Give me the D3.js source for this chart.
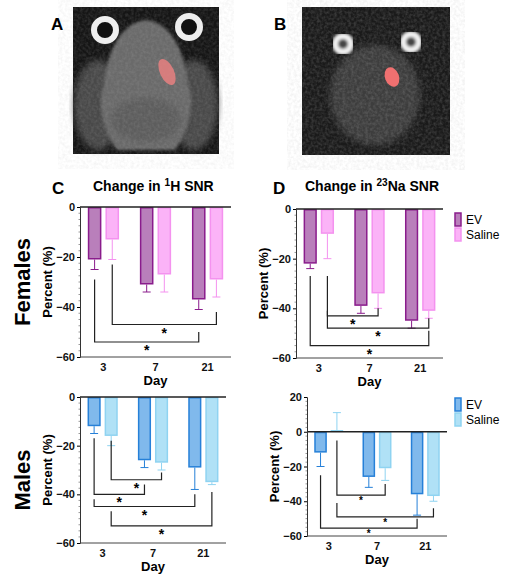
<!DOCTYPE html>
<html><head><meta charset="utf-8">
<script src="https://cdn.jsdelivr.net/npm/d3@7"></script>
<style>body{margin:0;background:#fff}svg{font-family:Arial,"Liberation Sans",sans-serif;font-weight:bold}</style>
</head><body><svg id="c" width="505" height="584"></svg>
<script>
const days = ["3","7","21"];
const series = ["EV","Saline"];
// Females, 1H
const fH_ev = [-21,-31,-37], fH_ev_err = [4,3,4];
const fH_sal = [-13,-27,-29], fH_sal_err = [8,7,7];
// Females, 23Na
const fNa_ev = [-22,-39,-45], fNa_ev_err = [2,3,3];
const fNa_sal = [-10,-34,-41], fNa_sal_err = [10,6,3];
// Males, 1H
const mH_ev = [-12,-26,-29], mH_ev_err = [3,3,9];
const mH_sal = [-16,-27,-35], mH_sal_err = [4,3,1];
// Males, 23Na
const mNa_ev = [-12,-26,-36], mNa_ev_err = [8,6,12];
const mNa_sal = [1,-21,-37], mNa_sal_err = [10,7,3];
const yTicksNeg = [0,-20,-40,-60];
const yTicksPos = [20,0,-20,-40,-60];
// brackets: [day,series, day,series, leftStartY, bottomY, rightEndY]
const fH_br = [[0,1,2,1,-23,-47,-42],[0,0,2,0,-29,-54,-50]];
const fNa_br = [[0,1,1,1,-27,-43,-40],[0,1,2,1,-41,-48,-44],[0,0,2,1,-27,-55,-49]];
const mH_br = [[0,1,1,1,-18,-34,-31],[0,0,1,0,-17,-40,-36],[0,0,2,0,-42,-45,-40],[0,1,2,1,-47,-53,-39]];
const mNa_br = [[0,1,1,1,-5,-36.5,-30],[0,1,2,1,-41,-49,-44],[0,0,2,0,-25,-55.5,-50]];

const svg = d3.select("#c");
const defs = svg.append("defs");
const fem = {ev:["#b97fbb","#8a1c8c"], sal:["#fbb3f7","#f492ef"]};
const mal = {ev:["#80b9ec","#2680d8"], sal:["#b0e1f6","#8fd3f1"]};

function blurF(id,s){ defs.append("filter").attr("id",id).append("feGaussianBlur").attr("stdDeviation",s); }
blurF("b1",1.5); blurF("b3",3);
const nf = defs.append("filter").attr("id","noise");
nf.append("feTurbulence").attr("type","fractalNoise").attr("baseFrequency",0.35).attr("numOctaves",2).attr("seed",3);
nf.append("feColorMatrix").attr("type","matrix").attr("values","0 0 0 0 0.5  0 0 0 0 0.5  0 0 0 0 0.5  0.9 0 0 0 -0.3");
// A
const A = svg.append("g");
A.append("rect").attr("x",73).attr("y",7).attr("width",146).attr("height",147).attr("fill","#151515");
A.append("ellipse").attr("cx",98).attr("cy",105).attr("rx",24).attr("ry",45).attr("fill","#4a4a4a").attr("filter","url(#b3)");
A.append("ellipse").attr("cx",194).attr("cy",105).attr("rx",24).attr("ry",45).attr("fill","#4a4a4a").attr("filter","url(#b3)");
A.append("path").attr("d","M146,20 C170,22 185,50 188,85 C195,100 190,130 175,150 L117,150 C102,130 97,100 104,85 C107,50 122,22 146,20Z").attr("fill","#6a6a6a").attr("filter","url(#b1)");
A.append("ellipse").attr("cx",146).attr("cy",120).attr("rx",35).attr("ry",22).attr("fill","#5d5d5d").attr("filter","url(#b3)");
A.append("rect").attr("x",73).attr("y",7).attr("width",146).attr("height",147).attr("filter","url(#noise)").attr("opacity",0.35);
[[105,30],[189,27]].forEach(p=>{A.append("circle").attr("cx",p[0]).attr("cy",p[1]).attr("r",11).attr("fill","#111").attr("stroke","#eee").attr("stroke-width",6);});
A.append("ellipse").attr("cx",167).attr("cy",72).attr("rx",7).attr("ry",14).attr("transform","rotate(-25,167,72)").attr("fill","#e88080").attr("opacity",0.85);
A.append("text").attr("x",51).attr("y",30).attr("font-size",17).text("A");
// B
const B = svg.append("g");
B.append("rect").attr("x",302).attr("y",7).attr("width",148).attr("height",148).attr("fill","#1a1a1a");
B.append("ellipse").attr("cx",375).attr("cy",95).attr("rx",45).attr("ry",50).attr("fill","#3c3c3c").attr("filter","url(#b3)");
B.append("rect").attr("x",302).attr("y",7).attr("width",148).attr("height",148).attr("filter","url(#noise)").attr("opacity",0.45);
[[343,44],[411,42]].forEach(p=>{B.append("circle").attr("cx",p[0]).attr("cy",p[1]).attr("r",8).attr("fill","#444").attr("stroke","#f2f2f2").attr("stroke-width",6).attr("filter","url(#b1)");});
B.append("ellipse").attr("cx",392).attr("cy",77).attr("rx",7).attr("ry",10).attr("transform","rotate(-20,392,77)").attr("fill","#f07070");
B.append("text").attr("x",274).attr("y",30).attr("font-size",17).text("B");

function panel(o){
  const g = svg.append("g");
  const y = d3.scaleLinear().domain(o.dom).range([o.top,o.bot]);
  const x0 = d3.scaleBand().domain(days).range([o.left,o.right]).paddingInner(0.4).paddingOuter(0.15);
  const x1 = d3.scaleBand().domain(series).range([0,x0.bandwidth()]).paddingInner(0.23);
  const cx = (d,s)=>x0(days[d])+x1(series[s])+x1.bandwidth()/2;
  const data=[o.ev,o.sal], errs=[o.evE,o.salE], cols=[o.c.ev,o.c.sal];
  data.forEach((vals,s)=>{
    vals.forEach((v,i)=>{
      const xx=x0(days[i])+x1(series[s]), mid=xx+x1.bandwidth()/2;
      const e = v + (v<0?-errs[s][i]:errs[s][i]);
      g.append("line").attr("x1",mid).attr("x2",mid).attr("y1",y(v)).attr("y2",y(e)).attr("stroke",cols[s][1]).attr("stroke-width",1);
      g.append("line").attr("x1",mid-4).attr("x2",mid+4).attr("y1",y(e)).attr("y2",y(e)).attr("stroke",cols[s][1]).attr("stroke-width",1);
      g.append("rect").attr("x",xx+0.75).attr("width",x1.bandwidth()-1.5)
        .attr("y",Math.min(y(v),y(0))+0.75).attr("height",Math.max(0.5,Math.abs(y(v)-y(0))-1.5))
        .attr("fill",cols[s][0]).attr("stroke",cols[s][1]).attr("stroke-width",1.5);
    });
  });
  g.append("line").attr("x1",o.left).attr("x2",o.right).attr("y1",y(0)).attr("y2",y(0)).attr("stroke","#222").attr("stroke-width",1.3);
  const ya = g.append("g").attr("transform",`translate(${o.left},0)`)
    .call(d3.axisLeft(y).tickValues(o.ticks).tickSize(3).tickPadding(2).tickFormat(d3.format("d")));
  ya.selectAll("text").attr("font-size",11).attr("font-weight","bold").attr("fill","#111");
  ya.select(".domain").attr("stroke","#333");
  d3.range(o.dom[1],o.dom[0],2.5).forEach(t=>{ if(t%20) g.append("line").attr("x1",o.left-1.5).attr("x2",o.left).attr("y1",y(t)).attr("y2",y(t)).attr("stroke","#555").attr("stroke-width",0.6);});
  const xa = g.append("g").attr("transform",`translate(0,${o.bot})`)
    .call(d3.axisBottom(x0).tickSize(0).tickPadding(6));
  xa.select(".domain").attr("d",`M${o.left},0H${o.right}`).attr("stroke","#444");
  xa.selectAll("text").attr("font-size",11).attr("font-weight","bold").attr("fill","#111");
  g.append("text").attr("x",(o.left+o.right)/2).attr("y",o.bot+28).attr("text-anchor","middle").attr("font-size",13).text("Day");
  g.append("text").attr("transform",`translate(${o.left-28},${(o.top+o.bot)/2}) rotate(-90)`).attr("text-anchor","middle").attr("font-size",13).text("Percent (%)");
  o.br.forEach(b=>{
    const xa_=cx(b[0],b[1]), xb=cx(b[2],b[3]);
    g.append("path").attr("d",`M${xa_},${y(b[4])}V${y(b[5])}H${xb}V${y(b[6])}`).attr("fill","none").attr("stroke","#222").attr("stroke-width",1.2);
    g.append("text").attr("x",(xa_+xb)/2).attr("y",y(b[5])+(o.small?9:13)).attr("text-anchor","middle").attr("font-size",o.small?10:14).text("*");
  });
  if(o.legend){
    series.forEach((s,i)=>{
      const c=cols[i];
      g.append("rect").attr("x",455).attr("y",o.legend+i*15+1).attr("width",6).attr("height",13).attr("fill",c[0]).attr("stroke",c[1]).attr("stroke-width",1.5);
      g.append("text").attr("x",466).attr("y",o.legend+i*15+12).attr("font-size",12).attr("font-weight","normal").text(s);
    });
  }
}
panel({left:80,right:231,top:207,bot:357,dom:[0,-60],ticks:yTicksNeg,ev:fH_ev,evE:fH_ev_err,sal:fH_sal,salE:fH_sal_err,c:fem,br:fH_br});
panel({left:296,right:443,top:209,bot:358,dom:[0,-60],ticks:yTicksNeg,ev:fNa_ev,evE:fNa_ev_err,sal:fNa_sal,salE:fNa_sal_err,c:fem,br:fNa_br,legend:212});
panel({left:80,right:226,top:397,bot:543,dom:[0,-60],ticks:yTicksNeg,ev:mH_ev,evE:mH_ev_err,sal:mH_sal,salE:mH_sal_err,c:mal,br:mH_br});
panel({left:307,right:447,top:397,bot:536,dom:[20,-60],ticks:yTicksPos,ev:mNa_ev,evE:mNa_ev_err,sal:mNa_sal,salE:mNa_sal_err,c:mal,br:mNa_br,legend:397,small:true});

// panel letters and titles
svg.append("text").attr("x",52).attr("y",194).attr("font-size",17).text("C");
svg.append("text").attr("x",273).attr("y",194).attr("font-size",17).text("D");
const t1 = svg.append("text").attr("x",93).attr("y",191).attr("font-size",14);
t1.append("tspan").text("Change in ");
t1.append("tspan").attr("font-size",10).attr("dy",-5).text("1");
t1.append("tspan").attr("dy",5).text("H SNR");
const t2 = svg.append("text").attr("x",305).attr("y",191).attr("font-size",14);
t2.append("tspan").text("Change in ");
t2.append("tspan").attr("font-size",10).attr("dy",-5).text("23");
t2.append("tspan").attr("dy",5).text("Na SNR");
svg.append("text").attr("transform","translate(30,282) rotate(-90)").attr("text-anchor","middle").attr("font-size",22).text("Females");
svg.append("text").attr("transform","translate(30,480) rotate(-90)").attr("text-anchor","middle").attr("font-size",22).text("Males");
</script></body></html>
